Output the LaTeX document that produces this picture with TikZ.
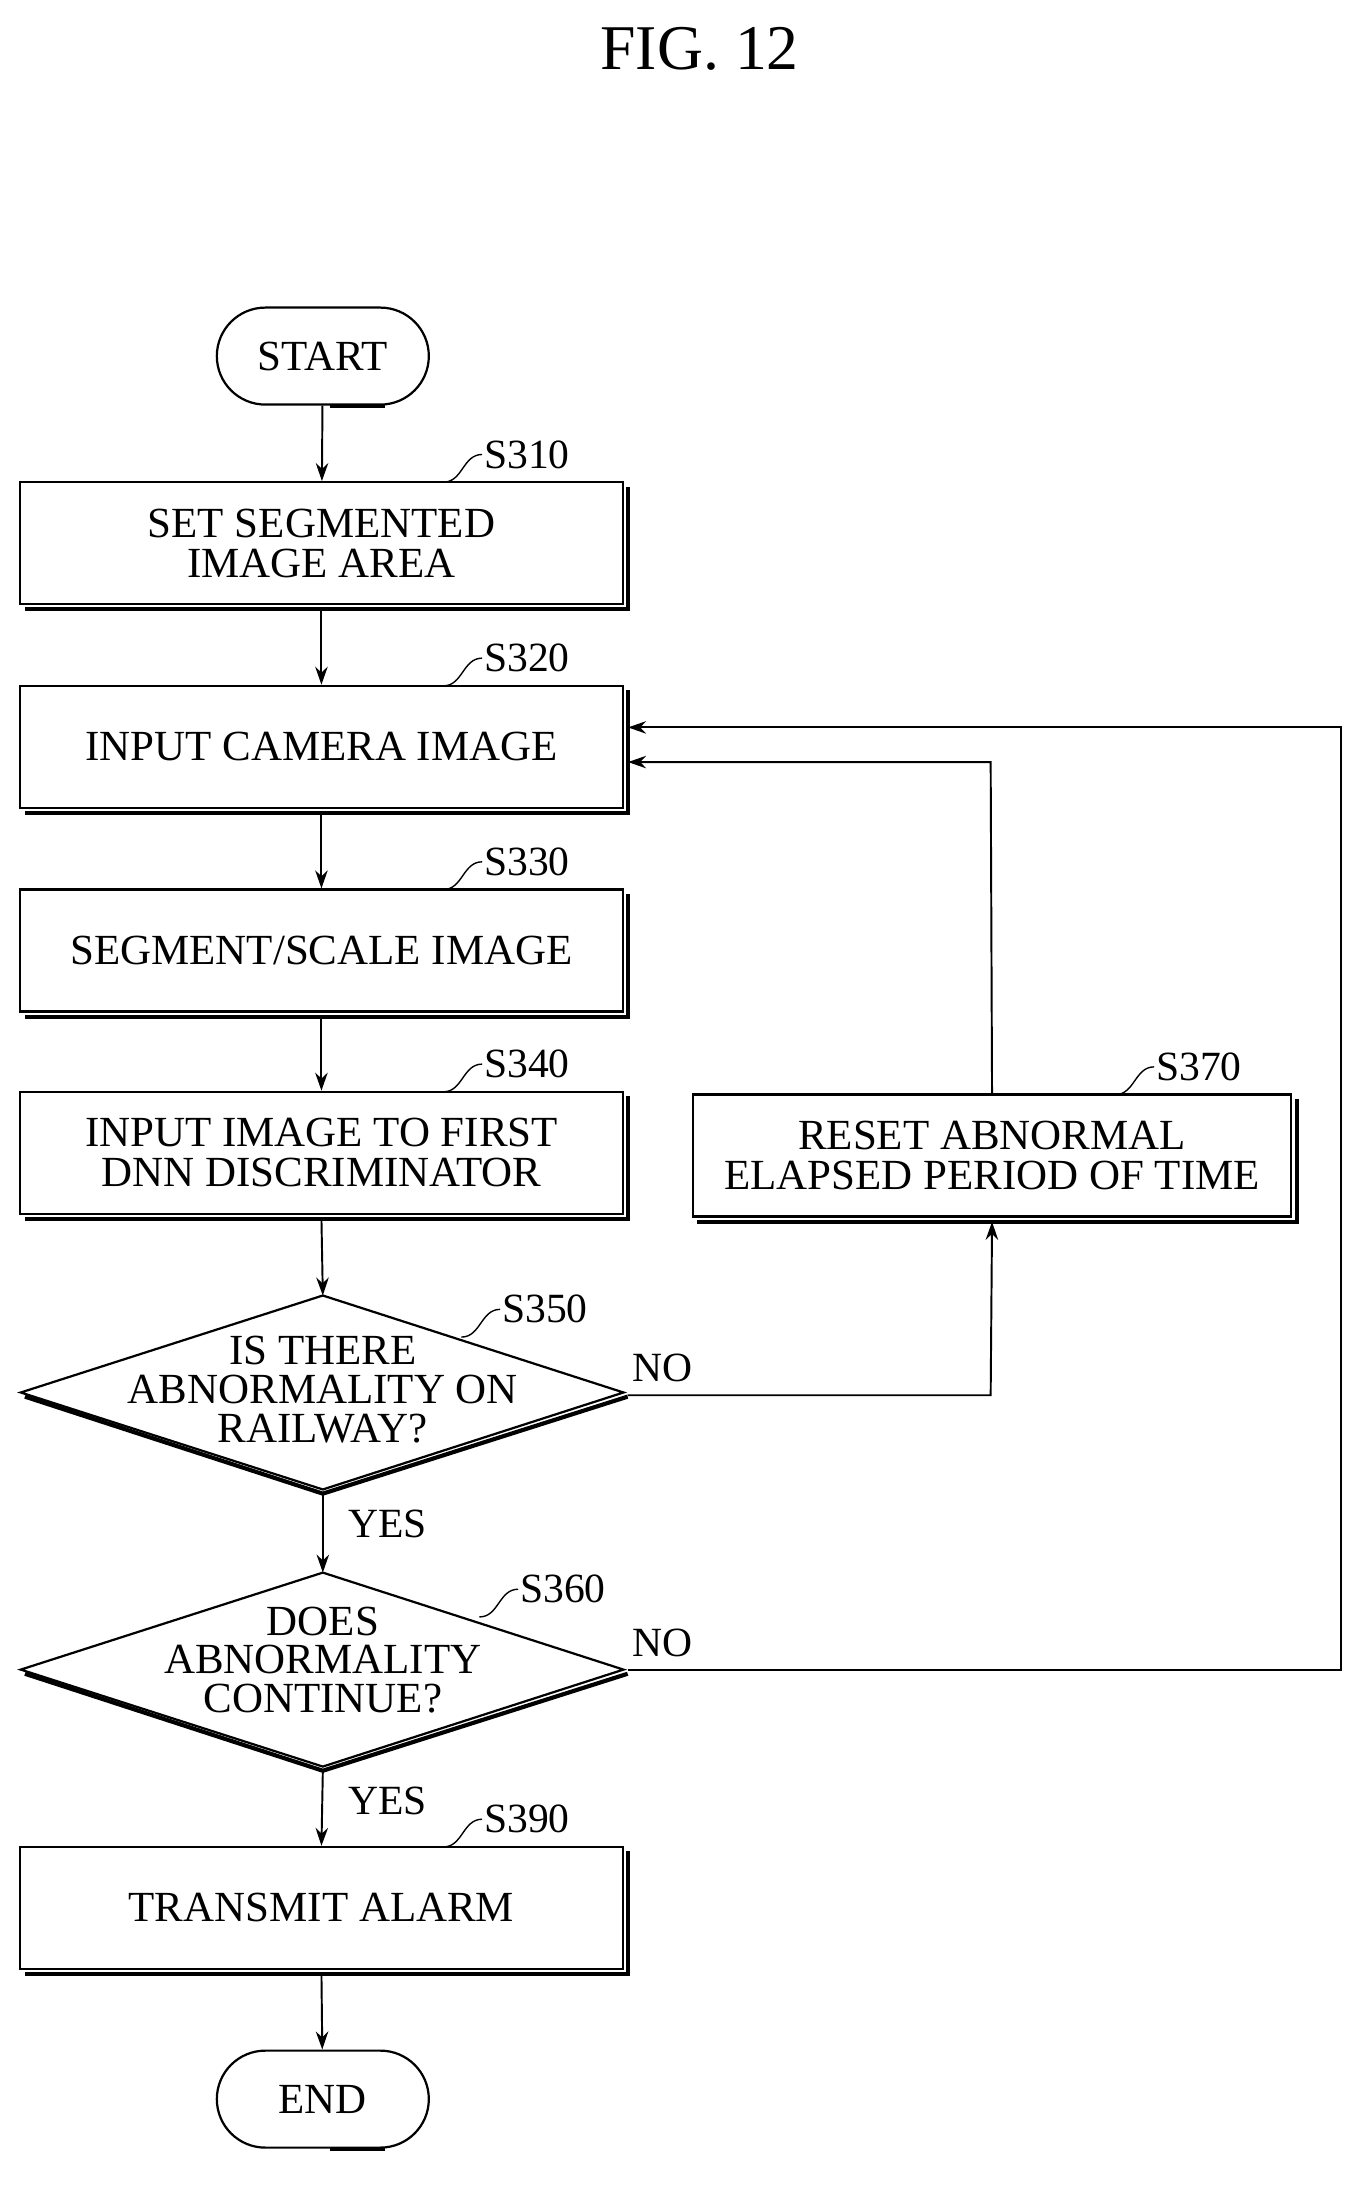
\documentclass[tikz,border=0pt]{standalone}
\usepackage{fontspec}
\setmainfont{Liberation Serif}
\usetikzlibrary{arrows.meta,shapes.geometric}
\begin{document}
\begin{tikzpicture}[x=1pt,y=-1pt,
  box/.style={draw,line width=1.6pt,minimum width=435pt,minimum height=88pt,align=center,font=\fontsize{31}{31}\selectfont,inner sep=0pt},
  term/.style={draw,line width=1.6pt,rounded corners=35pt,minimum width=153pt,minimum height=70pt,font=\fontsize{31}{31}\selectfont},
  lab/.style={font=\fontsize{30}{30}\selectfont,anchor=west,inner sep=1pt},
  arr/.style={line width=1.4pt,-{Stealth[length=13pt,width=9pt]}},
  sh/.style={line width=3pt}]
\useasboundingbox (0,0) rectangle (990,1577);
\node[font=\fontsize{46}{46}\selectfont] (title) at (505,35) {FIG. 12};
\newcommand{\shad}[1]{\draw[sh] ([xshift=3pt,yshift=-4pt]#1.north east) -- ([xshift=3pt,yshift=-3pt]#1.south east) -- ([xshift=4pt,yshift=-3pt]#1.south west);}
\newcommand{\steplab}[3]{\draw[line width=1pt] (#1,#2) .. controls (#1+14,#2) and (#1+14,#2-20) .. (#1+28,#2-20) node[lab] {#3};}
\node[term] (start) at (233,257) {START};
\draw[sh] ([xshift=3pt,yshift=-3pt]start.north east) ++(-28,-4) ;
\node[box] (s310) at (232,392) {SET SEGMENTED\\[-2pt]IMAGE AREA};
\node[box] (s320) at (232,539) {INPUT CAMERA IMAGE};
\node[box] (s330) at (232,686) {SEGMENT/SCALE IMAGE};
\node[box] (s340) at (232,832) {INPUT IMAGE TO FIRST\\[-2pt]DNN DISCRIMINATOR};
\node[box,minimum width=432pt] (s370) at (716,834) {RESET ABNORMAL\\[-2pt]ELAPSED PERIOD OF TIME};
\node[box] (s390) at (232,1377) {TRANSMIT ALARM};
\node[term] (end) at (233,1515) {END};
\foreach \n in {s310,s320,s330,s340,s370,s390} {\shad{\n}}
% terminal shadows
\draw[sh] (287,227) arc (-90:90:0) ;
\draw[sh] (278,293) -- (238,293);
\draw[sh] (278,1551) -- (238,1551);
% diamonds
\coordinate (d1) at (233,1005);
\node[minimum width=435pt,minimum height=140pt,inner sep=0pt] (s350) at (d1) {};
\draw[line width=1.6pt] (15,1005) -- (233,935) -- (450,1005) -- (233,1075) -- cycle;
\draw[sh] (18,1008) -- (233,1078) -- (453,1008);
\node[align=center,font=\fontsize{31}{31}\selectfont] (t350) at (233,1003) {IS THERE\\[-3pt]ABNORMALITY ON\\[-3pt]RAILWAY?};
\node[minimum width=435pt,minimum height=140pt,inner sep=0pt] (s360) at (233,1205) {};
\draw[line width=1.6pt] (15,1205) -- (233,1135) -- (450,1205) -- (233,1275) -- cycle;
\draw[sh] (18,1208) -- (233,1278) -- (453,1208);
\node[align=center,font=\fontsize{31}{31}\selectfont] (t360) at (233,1198) {DOES\\[-3pt]ABNORMALITY\\[-3pt]CONTINUE?};
% arrows
\draw[arr] (start) -- (s310);
\draw[arr] ([yshift=-3pt]s310.south) -- (s320);
\draw[arr] ([yshift=-3pt]s320.south) -- (s330);
\draw[arr] ([yshift=-3pt]s330.south) -- (s340);
\draw[arr] ([yshift=-3pt]s340.south) -- (233,935);
\draw[arr] (233,1078) -- (233,1135);
\draw[arr] (233,1278) -- (s390.north);
\draw[arr] ([yshift=-3pt]s390.south) -- (end);
\coordinate (c1) at (715,1007);
\draw[arr] (453,1007) -- (c1) -- ([yshift=-3pt]s370.south);
\coordinate (c2) at (715,550);
\draw[arr] (s370.north) -- (c2) -- ([yshift=-11pt,xshift=3pt]s320.east);
\coordinate (c3) at (968,1205);
\coordinate (c4) at (968,525);
\draw[arr] (453,1205) -- (c3) -- (c4) -- ([yshift=14pt,xshift=3pt]s320.east);
% labels
\node[lab] (no1) at (455,987) {NO};
\node[lab] (no2) at (455,1186) {NO};
\node[lab] (yes1) at (250,1100) {YES};
\node[lab] (yes2) at (250,1300) {YES};
\steplab{320}{348}{S310}
\steplab{320}{495}{S320}
\steplab{320}{642}{S330}
\steplab{320}{788}{S340}
\steplab{805}{790}{S370}
\steplab{333}{965}{S350}
\steplab{346}{1167}{S360}
\steplab{320}{1333}{S390}
\end{tikzpicture}
\end{document}
